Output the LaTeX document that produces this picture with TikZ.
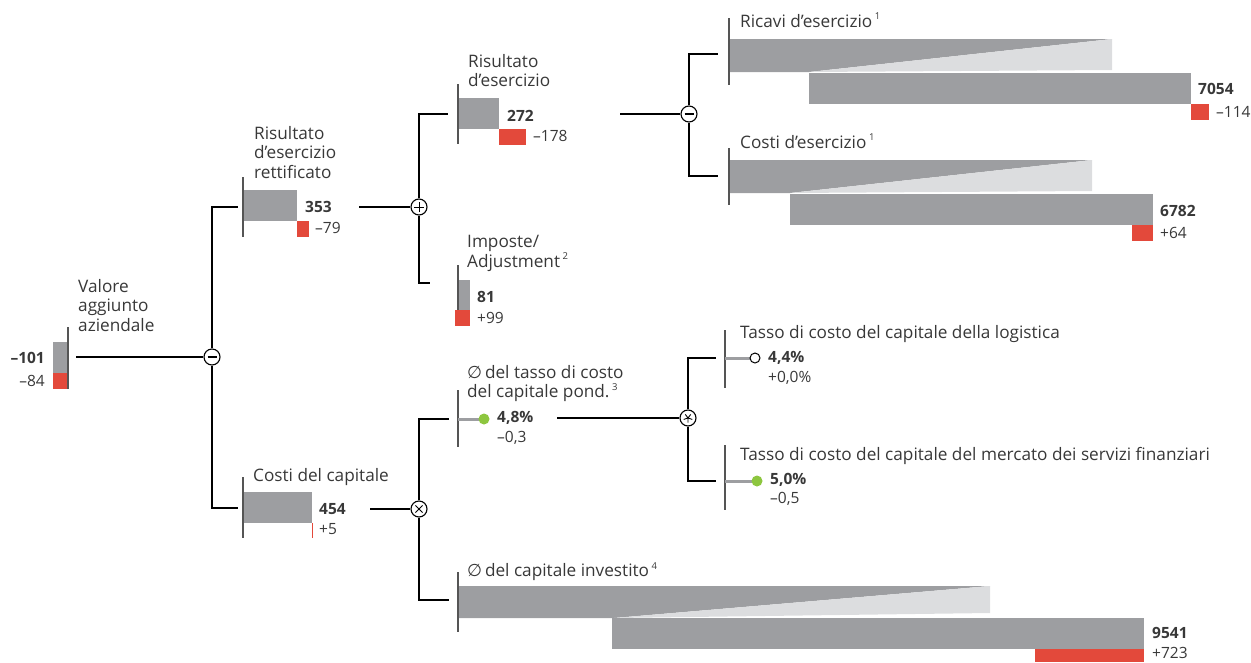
\documentclass[tikz,border=0pt]{standalone}
\usepackage{fontspec}
\setmainfont{Open Sans}
\newfontfamily\symf{DejaVu Sans}
\definecolor{bargray}{HTML}{9D9EA1}
\definecolor{lgray}{HTML}{DCDDDF}
\definecolor{barred}{HTML}{E3493B}
\definecolor{dotgreen}{HTML}{8DC63F}
\definecolor{txt}{HTML}{383838}
\definecolor{axisc}{HTML}{555555}
\tikzset{
  lbl/.style={anchor=north west, inner sep=0pt, font=\fontsize{17.2}{19.6}\selectfont, text=txt, align=left},
  val/.style={anchor=west, inner sep=0pt, font=\fontsize{15.5}{18}\selectfont\bfseries, text=txt},
  dlt/.style={anchor=west, inner sep=0pt, font=\fontsize{15.5}{18}\selectfont, text=txt},
  conn/.style={draw=black, line width=1.1pt},
  axisline/.style={draw=axisc, line width=1.4pt},
  op/.style={circle, draw=black, fill=white, minimum size=16pt, inner sep=0pt, line width=1.1pt},
  stem/.style={draw=bargray, line width=3pt},
}
\newcommand{\sups}[1]{\hspace{0.15em}\raisebox{0.42em}{\fontsize{9.5}{9.5}\selectfont #1}}
\begin{document}
\begin{tikzpicture}[x=1pt,y=-1pt]
\useasboundingbox (0,0) rectangle (1251,662);

% ---------- operators
\node[op] (op1) at (212,357) {};
\node[op] (op2) at (419,207) {};
\node[op] (op3) at (689,114) {};
\node[op] (op4) at (419,509) {};
\node[op] (op5) at (688,418) {};

% ---------- Valore aggiunto aziendale
\fill[bargray] (53,342) rectangle (68,373);
\fill[barred] (53,373) rectangle (67,389);
\draw[axisline] (68,327) -- (68,389);
\node[lbl] (tval) at (78,279) {Valore\\aggiunto\\aziendale};
\node[val, anchor=east] (vval) at (45,358) {–101};
\node[dlt, anchor=east] (dval) at (45,381) {–84};
\coordinate (valR) at (76,357);

% ---------- Risultato d'esercizio rettificato
\fill[bargray] (243,190) rectangle (297,221);
\fill[barred] (297,221) rectangle (309,237);
\draw[axisline] (243,177) -- (243,237);
\node[lbl] (tret) at (254,126) {Risultato\\d’esercizio\\rettificato};
\node[val] (vret) at (305,207) {353};
\node[dlt] (dret) at (315,228) {–79};
\coordinate (retL) at (238,207);
\coordinate (retR) at (359,207);

% ---------- Costi del capitale
\fill[bargray] (243,492) rectangle (312,523);
\draw[barred, line width=1pt] (312,523) -- (312,538);
\draw[axisline] (243,477) -- (243,538);
\node[lbl] (tcap) at (253,468) {Costi del capitale};
\node[val] (vcap) at (319,509) {454};
\node[dlt] (dcap) at (319,529) {+5};
\coordinate (capL) at (238,508);
\coordinate (capR) at (370,509);

% ---------- Risultato d'esercizio
\fill[bargray] (458,98) rectangle (499,129);
\fill[barred] (499,129) rectangle (526,145);
\draw[axisline] (458,84) -- (458,144);
\node[lbl] (tris) at (468,54) {Risultato\\d’esercizio};
\node[val] (vris) at (507,116) {272};
\node[dlt] (dris) at (533,136) {–178};
\coordinate (risL) at (448,114);
\coordinate (risR) at (620,114);

% ---------- Imposte / Adjustment
\fill[bargray] (458,280) rectangle (470,310);
\fill[barred] (455,310) rectangle (470,326);
\draw[axisline] (458,265) -- (458,310);
\node[lbl] (timp) at (467,235) {Imposte/\\Adjustment\sups{2}};
\node[val] (vimp) at (477,297) {81};
\node[dlt] (dimp) at (477,318) {+99};
\coordinate (impL) at (430,283);

% ---------- tasso medio
\draw[axisline] (458,390) -- (458,447);
\draw[stem] (458,419) -- (482,419);
\node[circle, fill=dotgreen, minimum size=11pt, inner sep=0pt] (dtas) at (484,419) {};
\node[lbl] (ttas) at (467,365) {{\symf ∅}\,del tasso di costo\\del capitale pond.\sups{3}};
\node[val] (vtas) at (497,418) {4,8\%};
\node[dlt] (dtasd) at (497,438) {–0,3};
\coordinate (tasL) at (449,419);
\coordinate (tasR) at (557,418);

% ---------- capitale investito
\fill[bargray] (458,586) -- (990,586) -- (614,618) -- (458,618) -- cycle;
\fill[lgray] (990,586) -- (990,613) -- (614,618) -- cycle;
\fill[bargray] (458,586) rectangle (460,613);
\fill[bargray] (612,618) rectangle (1144,649);
\fill[barred] (1035,649) rectangle (1144,662);
\draw[axisline] (458,572) -- (458,632);
\node[lbl] (tinv) at (467,562) {{\symf ∅}\,del capitale investito\sups{4}};
\node[val] (vinv) at (1152,633) {9541};
\node[dlt] (dinv) at (1152,653) {+723};
\coordinate (invL) at (449,600);

% ---------- Ricavi d'esercizio
\fill[bargray] (730,39) -- (1112,39) -- (809,72) -- (730,72) -- cycle;
\fill[lgray] (1112,39) -- (1112,70) -- (809,72) -- cycle;
\fill[bargray] (730,39) rectangle (760,70);
\fill[bargray] (809,73) rectangle (1191,104);
\fill[barred] (1191,104) rectangle (1209,120);
\draw[axisline] (729,18) -- (729,85);
\node[lbl] (tric) at (740,13) {Ricavi d’esercizio\sups{1}};
\node[val] (vric) at (1198,89) {7054};
\node[dlt] (dric) at (1216,112) {–114};
\coordinate (ricL) at (718,54);

% ---------- Costi d'esercizio
\fill[bargray] (730,160) -- (1092,160) -- (790,193) -- (730,193) -- cycle;
\fill[lgray] (1092,160) -- (1092,191) -- (790,193) -- cycle;
\fill[bargray] (730,160) rectangle (760,191);
\fill[bargray] (790,194) rectangle (1153,225);
\fill[barred] (1132,225) rectangle (1153,241);
\draw[axisline] (729,148) -- (729,205);
\node[lbl] (tcos) at (740,134) {Costi d’esercizio\sups{1}};
\node[val] (vcos) at (1160,211) {6782};
\node[dlt] (dcos) at (1160,233) {+64};
\coordinate (cosL) at (718,176);

% ---------- Tasso logistica
\draw[axisline] (725,330) -- (725,388);
\draw[stem] (725,358) -- (750,358);
\node[circle, draw=black, fill=white, line width=1pt, minimum size=10pt, inner sep=0pt] (dlog) at (755,358) {};
\node[lbl] (tlog) at (740,325) {Tasso di costo del capitale della logistica};
\node[val] (vlog) at (768,358) {4,4\%};
\node[dlt] (dlogd) at (768,378) {+0,0\%};
\coordinate (logL) at (716,358);

% ---------- Tasso mercato
\draw[axisline] (725,445) -- (725,510);
\draw[stem] (725,481) -- (752,481);
\node[circle, fill=dotgreen, minimum size=11pt, inner sep=0pt] (dmer) at (757,481) {};
\node[lbl] (tmer) at (740,447) {Tasso di costo del capitale del mercato dei servizi finanziari};
\node[val] (vmer) at (770,480) {5,0\%};
\node[dlt] (dmerd) at (770,499) {–0,5};
\coordinate (merL) at (716,481);

% ---------- connectors
\draw[conn] (valR) -- (op1);
\draw[conn] (op1) |- (retL);
\draw[conn] (op1) |- (capL);
\draw[conn] (retR) -- (op2);
\draw[conn] (op2) |- (risL);
\draw[conn] (op2) |- (impL);
\draw[conn] (risR) -- (op3);
\draw[conn] (op3) |- (ricL);
\draw[conn] (op3) |- (cosL);
\draw[conn] (capR) -- (op4);
\draw[conn] (op4) |- (tasL);
\draw[conn] (op4) |- (invL);
\draw[conn] (tasR) -- (op5);
\draw[conn] (op5) |- (logL);
\draw[conn] (op5) |- (merL);

% ---------- operator symbols
\draw[line width=2.2pt] ([xshift=-4.5pt]op1.center) -- ([xshift=4.5pt]op1.center);
\draw[line width=2.2pt] ([xshift=-4.5pt]op3.center) -- ([xshift=4.5pt]op3.center);
\draw[line width=1pt] ([xshift=-5pt]op2.center) -- ([xshift=5pt]op2.center)
  ([yshift=-5pt]op2.center) -- ([yshift=5pt]op2.center);
\draw[line width=1pt] ([shift={(-3.6pt,-3.6pt)}]op4.center) -- ([shift={(3.6pt,3.6pt)}]op4.center)
  ([shift={(-3.6pt,3.6pt)}]op4.center) -- ([shift={(3.6pt,-3.6pt)}]op4.center);
\draw[line width=0.9pt] ([yshift=-4.5pt]op5.center) -- (op5.center)
  ([shift={(-4.3pt,-1.4pt)}]op5.center) -- (op5.center) -- ([shift={(4.3pt,-1.4pt)}]op5.center)
  ([shift={(-2.7pt,3.6pt)}]op5.center) -- (op5.center) -- ([shift={(2.7pt,3.6pt)}]op5.center);
\end{tikzpicture}
\end{document}
